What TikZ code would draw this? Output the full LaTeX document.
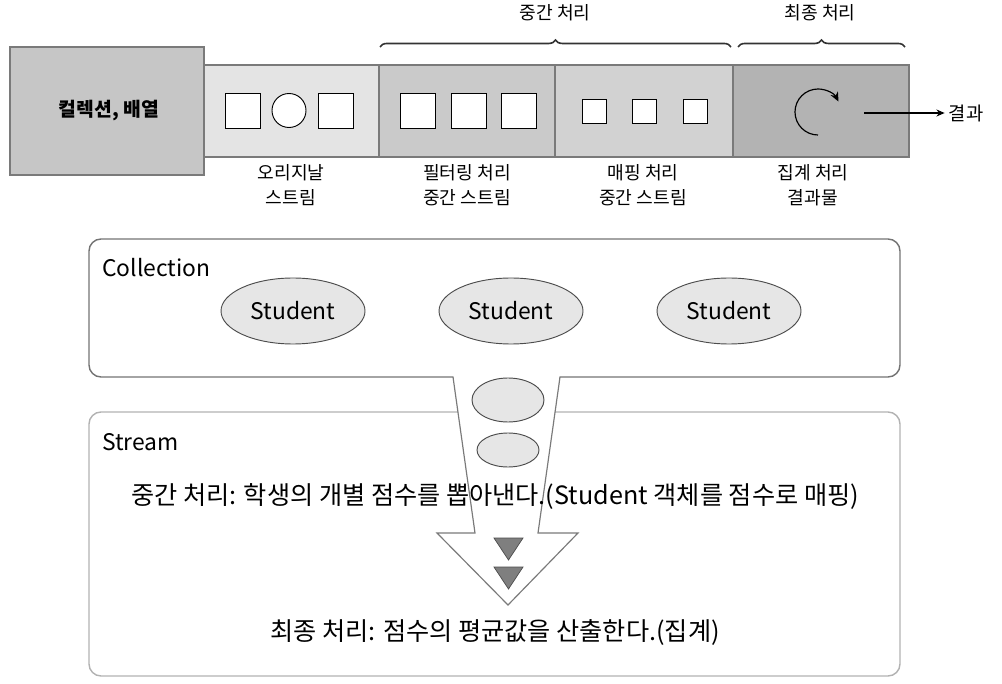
\documentclass[tikz,border=0pt]{standalone}
\usepackage{fontspec}
\setmainfont{Noto Sans CJK KR}
\usetikzlibrary{arrows.meta}
\usetikzlibrary{decorations.pathreplacing}

\definecolor{srcgray}{HTML}{C6C6C6}
\definecolor{orggray}{HTML}{E4E4E4}
\definecolor{filgray}{HTML}{CACACA}
\definecolor{mapgray}{HTML}{D2D2D2}
\definecolor{sumgray}{HTML}{B3B3B3}
\definecolor{linegray}{HTML}{7A7A7A}
\definecolor{elgray}{HTML}{E6E6E6}
\definecolor{tipgray}{HTML}{7F7F7F}

\begin{document}
\begin{tikzpicture}[x=0.03cm, y=0.03cm,
  band/.style={draw=linegray, line width=1.2pt},
  item/.style={draw=black, fill=white, line width=0.8pt},
  lbl/.style={font=\fontsize{15.5}{21}\selectfont, align=center},
  roundbox/.style={rounded corners=0.36cm, line width=1.2pt},
  stud/.style={draw=black!70, fill=elgray, line width=0.8pt},
  big/.style={font=\fontsize{19.5}{23}\selectfont},
  step text/.style={font=\fontsize{21.5}{25}\selectfont}]

\useasboundingbox (0,0) rectangle (1002,-684);

\draw[band, fill=srcgray] (10,-47) rectangle (204,-175);
\node at (109,-111) (src) {\fontsize{16.5}{20}\selectfont\textbf{컬렉션, 배열}};

\draw[band, fill=orggray] (204,-65) rectangle (379,-157);
\draw[band, fill=filgray] (379,-65) rectangle (555,-157);
\draw[band, fill=mapgray] (555,-65) rectangle (733,-157);
\draw[band, fill=sumgray] (733,-65) rectangle (909,-157);

\draw[item] (225,-93) rectangle (260,-128);
\draw[item] (289,-110.5) circle [radius=17];
\draw[item] (318,-93) rectangle (353,-128);
\foreach \x in {400,451,501}
  \draw[item] (\x,-93) rectangle (\x+35,-128);
\foreach \x in {582,632,683}
  \draw[item] (\x,-99) rectangle (\x+24,-123);

\draw[-{Stealth[length=8pt,width=7pt]}, line width=1pt]
    (818,-135) arc [start angle=-90, end angle=-333, radius=23];

\coordinate (resstart) at (864,-113);
\node at (966,-113) (res) {\fontsize{16}{20}\selectfont 결과};
\draw[-{Stealth[length=7pt,width=6pt]}, line width=0.9pt] (resstart) -- (res.west);

\coordinate (midA) at (380,-47);
\coordinate (midB) at (731,-47);
\coordinate (finA) at (738,-47);
\coordinate (finB) at (905,-47);
\draw[decorate, decoration={brace, amplitude=6pt}, line width=1.4pt, black!80]
    (midA) -- (midB);
\draw[decorate, decoration={brace, amplitude=6pt}, line width=1.4pt, black!80]
    (finA) -- (finB);
\node[lbl] at (555,-13) (midL) {중간 처리};
\node[lbl] at (820,-13) (finL) {최종 처리};

\node[lbl] at (291,-185) (orgL) {오리지날\\스트림};
\node[lbl] at (467,-185) (filL) {필터링 처리\\중간 스트림};
\node[lbl] at (643,-185) (mapL) {매핑 처리\\중간 스트림};
\node[lbl] at (813,-185) (sumL) {집계 처리\\결과물};

\draw[roundbox, draw=black!55] (89,-239) rectangle (900,-377);
\draw[roundbox, draw=black!30] (89,-412) rectangle (900,-676);
\node[big, anchor=west] at (98,-268) (coll) {Collection};
\node[big, anchor=west] at (98,-442) (strm) {Stream};

\foreach \x/\n in {293/s1, 511/s2, 729/s3} {
  \draw[stud] (\x,-311) ellipse [x radius=72, y radius=33];
  \node[big] at (\x,-311) (\n) {Student};
}

\fill[white] (453,-373) -- (475,-533) -- (437,-533) -- (508,-605)
    -- (578,-533) -- (538,-533) -- (560,-373) -- cycle;
\draw[linegray, line width=1pt, line join=miter]
    (453,-377) -- (475,-533) -- (437,-533) -- (508,-605)
    -- (578,-533) -- (538,-533) -- (560,-377);

\draw[stud] (508,-400) ellipse [x radius=36, y radius=22];
\draw[stud] (508,-450) ellipse [x radius=31, y radius=17];
\draw[fill=tipgray, draw=black!70, line width=0.6pt]
    (494,-538) -- (523,-538) -- (508.5,-560) -- cycle;
\draw[fill=tipgray, draw=black!70, line width=0.6pt]
    (494,-567) -- (523,-567) -- (508.5,-589) -- cycle;

\node[step text] at (495,-497) (midT) {중간 처리: 학생의 개별 점수를 뽑아낸다.(Student 객체를 점수로 매핑)};
\node[step text] at (495,-632) (finT) {최종 처리: 점수의 평균값을 산출한다.(집계)};
\end{tikzpicture}
\end{document}
